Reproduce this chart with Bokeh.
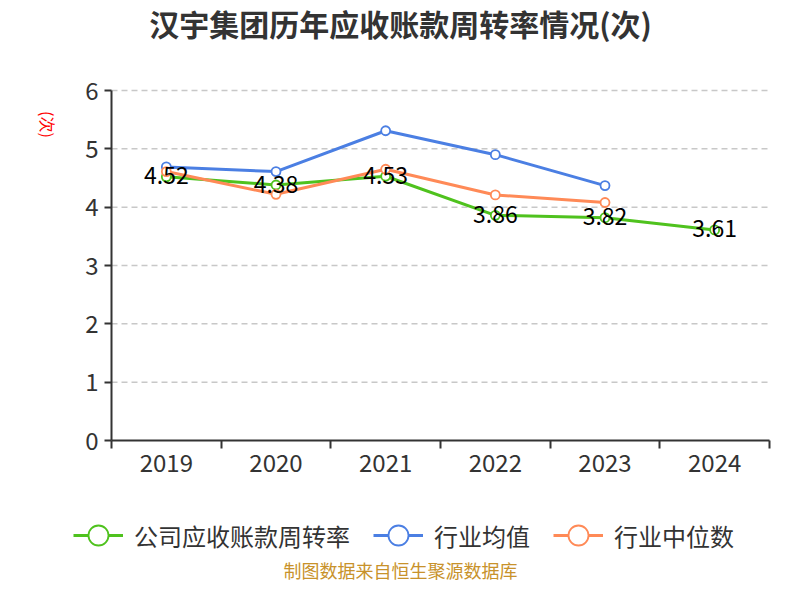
import math
from bokeh.plotting import figure
from bokeh.models import (Range1d, FixedTicker, Legend, LegendItem, ColumnDataSource,
                          Label, LinearAxis)
from bokeh.core.properties import value
from bokeh.embed import file_html
from bokeh.resources import INLINE

years = ["2019", "2020", "2021", "2022", "2023", "2024"]
company = [4.52, 4.38, 4.53, 3.86, 3.82, 3.61]
industry_avg = [4.69, 4.61, 5.31, 4.90, 4.37]
industry_median = [4.61, 4.22, 4.65, 4.21, 4.08]
y_ticks = [0, 1, 2, 3, 4, 5, 6]

title_text = "汉宇集团历年应收账款周转率情况(次)"
unit_text = "(次)"
source_text = "制图数据来自恒生聚源数据库"
names = ["公司应收账款周转率", "行业均值", "行业中位数"]
colors = ["#4fc21e", "#4b7fe3", "#ff8a57"]

FONT = "Noto Sans CJK SC"

# layout (pixels in the 784x584 canvas)
W, H = 784, 584
PL, PR, PT, PB = 111, 769, 90, 440      # plot area edges

n = len(years)
centers = [i + 0.5 for i in range(n)]
bounds = [i for i in range(n + 1)]
ymin, ymax = y_ticks[0], y_ticks[-1]

xpx = (PR - PL) / n
ypx = (PB - PT) / (ymax - ymin)
x_range = Range1d(0 - PL / xpx, n + (W - PR) / xpx)
y_range = Range1d(ymin - (H - PB) / ypx, ymax + PT / ypx)

p = figure(width=W, height=H, output_backend="svg", toolbar_location=None,
           x_range=x_range, y_range=y_range, x_axis_type=None, y_axis_type=None,
           min_border=0)
p.outline_line_color = None
p.xgrid.visible = False
p.ygrid.visible = False
p.background_fill_color = "white"
p.border_fill_color = "white"

# dashed horizontal grid lines across the plot area
grid_src = ColumnDataSource(dict(x0=[bounds[0]] * (len(y_ticks) - 1),
                                 x1=[bounds[-1]] * (len(y_ticks) - 1),
                                 y=y_ticks[1:]))
p.segment("x0", "y", "x1", "y", source=grid_src, line_color="#c8c8c8",
          line_width=1.5, line_dash="6 4")

# axes at fixed locations
xaxis = LinearAxis(fixed_location=ymin, bounds=(bounds[0], bounds[-1]),
                   ticker=FixedTicker(ticks=centers, minor_ticks=bounds),
                   major_label_overrides={c: y for c, y in zip(centers, years)})
xaxis.major_tick_out = 0
xaxis.major_tick_in = 0
xaxis.minor_tick_out = 8
xaxis.minor_tick_in = 0
xaxis.minor_tick_line_color = "#333333"
xaxis.minor_tick_line_width = 2
xaxis.major_label_standoff = 5
yaxis = LinearAxis(fixed_location=bounds[0], bounds=(ymin, ymax),
                   ticker=FixedTicker(ticks=y_ticks))
yaxis.major_tick_out = 7
yaxis.major_tick_in = 0
yaxis.minor_tick_line_color = None
yaxis.major_tick_line_width = 2
yaxis.major_label_standoff = 6
for ax in (xaxis, yaxis):
    ax.axis_line_color = "#333333"
    ax.axis_line_width = 2
    ax.major_tick_line_color = "#333333"
    ax.major_label_text_font = FONT
    ax.major_label_text_font_size = "24px"
    ax.major_label_text_color = "#333333"
p.add_layout(xaxis, "below")
p.add_layout(yaxis, "left")

# series
series = [company, industry_avg, industry_median]
items = []
for name, vals, col in zip(names, series, colors):
    src = ColumnDataSource(dict(x=centers[:len(vals)], y=vals))
    ln = p.line("x", "y", source=src, line_color=col, line_width=3)
    sc = p.scatter("x", "y", source=src, size=9, marker="circle",
                   fill_color="white", line_color=col, line_width=1.8)
    items.append(LegendItem(label=name, renderers=[ln, sc]))

# data labels for the company series
lab_src = ColumnDataSource(dict(x=centers[:len(company)], y=company,
                                t=["%.2f" % v for v in company]))
p.text("x", "y", text="t", source=lab_src, text_align="center", text_baseline="middle",
       y_offset=-1, text_font=value(FONT), text_font_size="23px", text_color="#000000")

legend = Legend(items=items, location=(73, 24), orientation="horizontal",
                glyph_width=50, glyph_height=50, label_standoff=11, spacing=23,
                padding=0, margin=0, border_line_color=None, background_fill_alpha=0,
                label_text_font=FONT, label_text_font_size="24px", label_text_color="#333333")
p.add_layout(legend, "center")

p.add_layout(Label(x=W / 2 + 8, y=H - 22, x_units="screen", y_units="screen", text=title_text,
                   text_align="center", text_baseline="middle", text_font=FONT,
                   text_font_size="30px", text_font_style="bold", text_color="#333333"))
p.add_layout(Label(x=47, y=H - 124, x_units="screen", y_units="screen", text=unit_text,
                   angle=-math.pi / 2, text_align="center", text_baseline="middle",
                   text_font=FONT, text_font_size="16px", text_color="#ff0000"))
p.add_layout(Label(x=W / 2 + 8, y=15, x_units="screen", y_units="screen", text=source_text,
                   text_align="center", text_baseline="middle", text_font=FONT,
                   text_font_size="18px", text_color="#c8922b"))

open("out.html", "w").write(file_html(p, INLINE))
